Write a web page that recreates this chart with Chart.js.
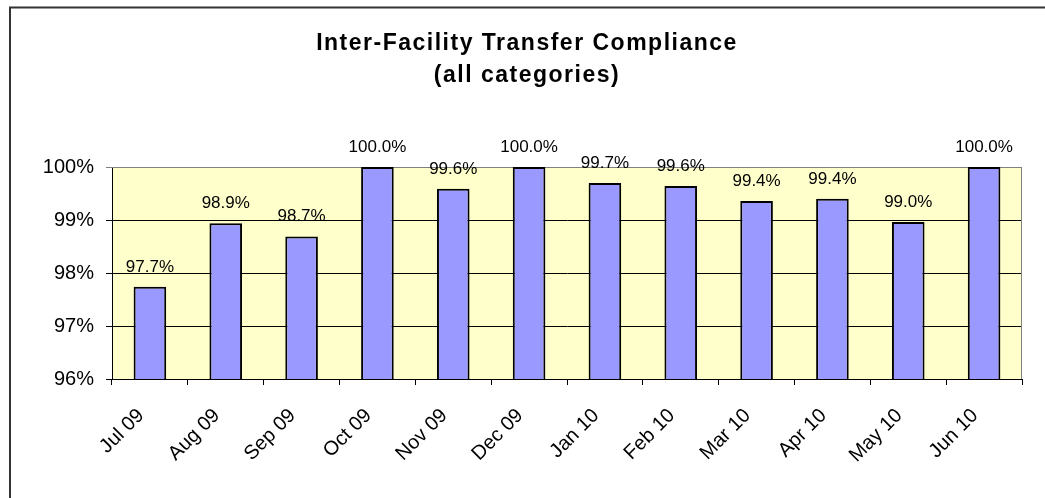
<!DOCTYPE html>
<html>
<head>
<meta charset="utf-8">
<script src="https://cdn.jsdelivr.net/npm/chart.js@4.4.1/dist/chart.umd.min.js"></script>
<style>
  html, body { margin: 0; padding: 0; background: #fff; }
  #wrap { width: 1045px; height: 498px; position: relative; }
</style>
</head>
<body>
<div id="wrap"><canvas id="barchart"></canvas></div>
<script>
const months = ["Jul 09", "Aug 09", "Sep 09", "Oct 09", "Nov 09", "Dec 09",
  "Jan 10", "Feb 10", "Mar 10", "Apr 10", "May 10", "Jun 10"];
const compliance = [97.74, 98.94, 98.69, 100, 99.59, 100, 99.70, 99.64, 99.36, 99.40, 98.96, 100];
const titleLines = ["Inter-Facility Transfer Compliance", "(all categories)"];
const yMin = 96;
const yMax = 100;

const FONT = "'Liberation Sans', Arial, sans-serif";

// plot area fill, grey frame, outer border, title and value labels
const excelLook = {
  id: "excelLook",
  beforeDraw(chart) {
    const { ctx, chartArea: a } = chart;
    ctx.save();
    ctx.fillStyle = "#FFFFCC";
    ctx.fillRect(a.left, a.top, a.right - a.left, a.bottom - a.top);
    ctx.restore();
  },
  beforeDatasetsDraw(chart) {
    const { ctx, chartArea: a } = chart;
    ctx.save();
    ctx.strokeStyle = "#808080";
    ctx.lineWidth = 1;
    ctx.beginPath();
    ctx.moveTo(a.left, a.top + 0.5);
    ctx.lineTo(a.right - 0.5, a.top + 0.5);
    ctx.lineTo(a.right - 0.5, a.bottom);
    ctx.stroke();
    ctx.restore();
  },
  afterDatasetsDraw(chart) {
    const { ctx } = chart;
    const meta = chart.getDatasetMeta(0);
    ctx.save();
    ctx.fillStyle = "#000";
    ctx.font = "17px " + FONT;
    ctx.textAlign = "center";
    ctx.textBaseline = "alphabetic";
    meta.data.forEach((bar, i) => {
      ctx.fillText(compliance[i].toFixed(1) + "%", bar.x, bar.y - 15);
    });
    ctx.restore();
  },
  afterDraw(chart) {
    const { ctx } = chart;
    ctx.save();
    // outer chart border
    ctx.strokeStyle = "#333";
    ctx.lineWidth = 2;
    ctx.beginPath();
    ctx.moveTo(10, 498);
    ctx.lineTo(10, 7.5);
    ctx.lineTo(1045, 7.5);
    ctx.stroke();
    // title
    ctx.fillStyle = "#000";
    ctx.font = "bold 23px " + FONT;
    ctx.letterSpacing = "1.5px";
    ctx.textAlign = "center";
    ctx.textBaseline = "alphabetic";
    ctx.fillText(titleLines[0], 527, 49.5);
    ctx.fillText(titleLines[1], 527, 82);
    ctx.restore();
  },
};

const bctx = document.getElementById("barchart");

new Chart(bctx, {
  type: "bar",
  data: {
    labels: months,
    datasets: [
      {
        label: "Compliance",
        data: compliance,
        backgroundColor: "#9999FF",
        borderColor: "#000",
        borderWidth: 2,
        borderSkipped: false,
        barPercentage: 0.43,
        categoryPercentage: 1,
      },
    ],
  },
  options: {
    responsive: true,
    maintainAspectRatio: false,
    animation: false,
    layout: {
      padding: { top: 167, right: 23, left: 0, bottom: 0 },
    },
    plugins: {
      legend: { display: false },
      title: { display: false },
      tooltip: { enabled: false },
    },
    scales: {
      x: {
        afterFit: (s) => { s.height = 119; },
        grid: {
          offset: true,
          drawOnChartArea: false,
          drawTicks: true,
          tickLength: 6,
          color: "#000",
        },
        border: { color: "#000", width: 1 },
        ticks: {
          color: "#000",
          font: { family: FONT, size: 20 },
          minRotation: 45,
          maxRotation: 45,
          padding: 19,
          labelOffset: -9,
        },
      },
      y: {
        min: yMin,
        max: yMax,
        afterFit: (s) => { s.width = 112; },
        grid: {
          color: (c) => (c.tick && c.tick.value === yMax ? "#808080" : "#000"),
          lineWidth: 1,
          tickLength: 6,
        },
        border: { color: "#000", width: 1 },
        ticks: {
          stepSize: 1,
          color: "#000",
          padding: 12,
          font: { family: FONT, size: 20 },
          callback: (v) => v + "%",
        },
      },
    },
  },
  plugins: [excelLook],
});
</script>
</body>
</html>
